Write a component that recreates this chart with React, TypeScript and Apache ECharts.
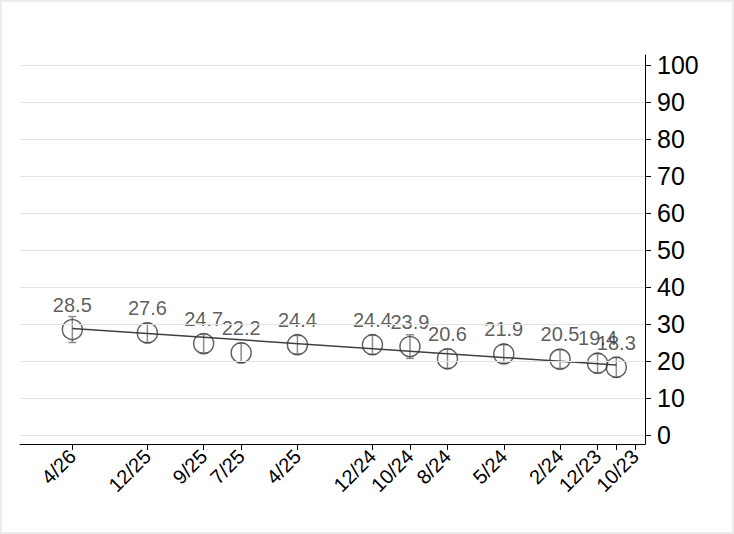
import React, { useEffect, useRef } from "react";
import * as echarts from "echarts";

// Survey dates (m/yy), values and confidence half-widths
const pointDates = ["4/26", "12/25", "9/25", "7/25", "4/25", "12/24", "10/24", "8/24", "5/24", "2/24", "12/23", "11/23"];
const pointValues = [28.5, 27.6, 24.7, 22.2, 24.4, 24.4, 23.9, 20.6, 21.9, 20.5, 19.4, 18.3];
const errHalf = [3.5, 2.6, 2.5, 2.6, 2.5, 2.6, 3.2, 2.6, 2.5, 2.5, 2.6, 2.7];

// Trend line end points
const trendDates = ["4/26", "11/23"];
const trendValues = [28.8, 18.9];

// Axis ticks
const tickDates = ["4/26", "12/25", "9/25", "7/25", "4/25", "12/24", "10/24", "8/24", "5/24", "2/24", "12/23", "11/23", "10/23"];
const labelDates = ["4/26", "12/25", "9/25", "7/25", "4/25", "12/24", "10/24", "8/24", "5/24", "2/24", "12/23", "10/23"];
const yTicks = [0, 10, 20, 30, 40, 50, 60, 70, 80, 90, 100];

const toMonth = (d: string) => {
  const [m, y] = d.split("/").map(Number);
  return y * 12 + (m - 1);
};
const fromMonth = (v: number) => {
  const r = Math.round(v);
  return `${(r % 12) + 1}/${Math.floor(r / 12)}`;
};

const FONT = "'Liberation Sans', Arial, sans-serif";

export default function App() {
  const ref = useRef<HTMLDivElement>(null);
  useEffect(() => {
    if (!ref.current) return;
    const chart = echarts.init(ref.current, undefined, { renderer: "svg" });
    const labelSet = new Set(labelDates.map(toMonth));
    const pts = pointDates.map((d, i) => [toMonth(d), pointValues[i]]);
    const errs = pointDates.map((d, i) => [toMonth(d), pointValues[i] - errHalf[i], pointValues[i] + errHalf[i]]);
    chart.setOption({
      animation: false,
      backgroundColor: "#ffffff",
      textStyle: { fontFamily: FONT },
      graphic: [
        {
          type: "rect",
          shape: { x: 1, y: 1, width: 732, height: 532 },
          style: { fill: "none", stroke: "#ececec", lineWidth: 2 },
          silent: true,
          z: -10,
        },
      ],
      grid: { left: 20, right: 89, top: 55, bottom: 90, containLabel: false, outerBoundsMode: "none" },
      xAxis: {
        type: "value",
        inverse: true,
        min: 284.47,
        max: 317.79,
        splitLine: { show: false },
        axisLine: { show: true, onZero: false, lineStyle: { color: "#000", width: 1 } },
        axisTick: {
          show: true,
          length: 6,
          lineStyle: { color: "#000", width: 1 },
          customValues: tickDates.map(toMonth),
        },
        axisLabel: {
          show: true,
          rotate: 45,
          margin: 9,
          fontSize: 20,
          color: "#000",
          fontFamily: FONT,
          customValues: labelDates.map(toMonth),
          formatter: (v: number) => (labelSet.has(Math.round(v)) ? fromMonth(v) : ""),
        },
      },
      yAxis: {
        type: "value",
        position: "right",
        min: -2.43,
        max: 102.7,
        splitLine: { show: false },
        axisLine: { show: true, onZero: false, lineStyle: { color: "#000", width: 1 } },
        axisTick: {
          show: true,
          length: 6,
          lineStyle: { color: "#000", width: 1 },
          customValues: yTicks,
        },
        axisLabel: {
          show: true,
          margin: 12,
          fontSize: 25,
          color: "#000",
          fontFamily: FONT,
          customValues: yTicks,
        },
      },
      series: [
        {
          type: "line",
          data: [],
          z: 0,
          silent: true,
          markLine: {
            silent: true,
            symbol: "none",
            label: { show: false },
            lineStyle: { color: "#e2e2e2", type: "solid", width: 1 },
            emphasis: { disabled: true },
            data: yTicks.map((v) => ({ yAxis: v })),
          },
        },
        {
          type: "custom",
          z: 2,
          silent: true,
          data: errs,
          renderItem: (params: any, api: any) => {
            const x = api.value(0);
            const lo = api.coord([x, api.value(1)]);
            const hi = api.coord([x, api.value(2)]);
            const cap = 4;
            const st = { stroke: "#8c8c8c", lineWidth: 1.5 };
            return {
              type: "group",
              children: [
                { type: "line", shape: { x1: lo[0], y1: lo[1], x2: hi[0], y2: hi[1] }, style: st },
                { type: "line", shape: { x1: lo[0] - cap, y1: lo[1], x2: lo[0] + cap, y2: lo[1] }, style: st },
                { type: "line", shape: { x1: hi[0] - cap, y1: hi[1], x2: hi[0] + cap, y2: hi[1] }, style: st },
              ],
            };
          },
        },
        {
          type: "line",
          z: 3,
          silent: true,
          data: trendDates.map((d, i) => [toMonth(d), trendValues[i]]),
          symbol: "none",
          lineStyle: { color: "#404040", width: 1.5 },
        },
        {
          type: "scatter",
          z: 4,
          data: pts,
          symbol: "circle",
          symbolSize: 20,
          itemStyle: { color: "rgba(0,0,0,0)", borderColor: "#3c3c3c", borderWidth: 1.5 },
          label: {
            show: true,
            position: "top",
            distance: 4,
            fontSize: 20,
            color: "#333333",
            fontFamily: FONT,
            formatter: (p: any) => p.value[1].toFixed(1),
          },
        },
      ],
    });
    return () => chart.dispose();
  }, []);
  return <div ref={ref} style={{ position: "fixed", left: 0, top: 0, width: 734, height: 534 }} />;
}
